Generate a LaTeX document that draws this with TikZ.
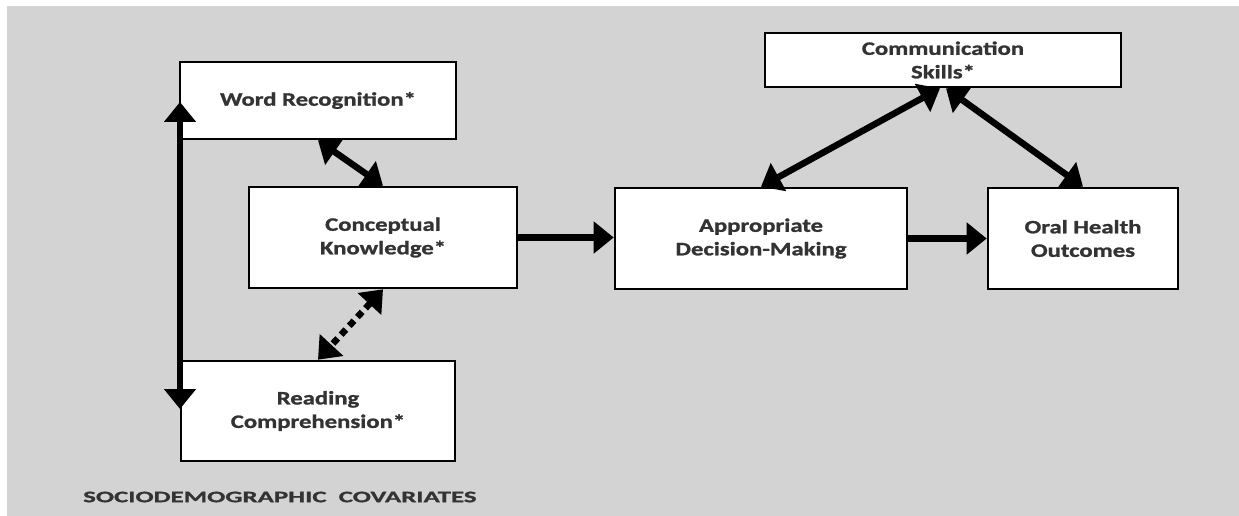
\documentclass[tikz,border=0pt]{standalone}
\usepackage{fontspec}
\setmainfont{Carlito}[FakeStretch=1.3,FakeBold=1.2]
\newfontfamily\sdfont{Carlito}[FakeStretch=1.68,FakeBold=1.2]
\usetikzlibrary{arrows.meta,calc}
\definecolor{bggrey}{HTML}{D3D3D3}
\definecolor{txtgrey}{HTML}{333333}
\begin{document}
\begin{tikzpicture}[x=1pt,y=-1pt,
  box/.style={draw=black, line width=2.6pt, fill=white, inner sep=0pt, align=center,
    font=\fontsize{19}{23.5}\selectfont\bfseries, text=txtgrey},
  conn/.style={line width=6.5pt, -{Triangle[length=20pt,width=31pt]}},
  biconn/.style={line width=6.5pt, {Triangle[length=20pt,width=31pt]}-{Triangle[length=20pt,width=31pt]}},
  dotconn/.style={biconn, dash pattern=on 7pt off 5pt}]
\useasboundingbox (0,0) rectangle (1239,516);
\fill[white] (0,0) rectangle (1239,516);
\fill[bggrey] (7,6) rectangle (1239,516);
\node[box, minimum width=276pt, minimum height=77pt] (wr) at (318,100.5) {Word Recognition*};
\node[box, minimum width=268pt, minimum height=101pt] (ck) at (383,237.5) {Conceptual\\Knowledge*};
\node[box, minimum width=274pt, minimum height=100pt] (rc) at (318,411) {Reading\\Comprehension*};
\node[box, minimum width=292pt, minimum height=101pt] (ad) at (761,238.5) {Appropriate\\Decision-Making};
\node[box, minimum width=190pt, minimum height=101pt] (oh) at (1083,238.5) {Oral Health\\Outcomes};
\node[box, minimum width=356pt, minimum height=54pt] (cs) at (943,60) {Communication\\Skills*};
\node[font=\sdfont\fontsize{16}{18}\selectfont\bfseries, text=txtgrey, anchor=west, inner sep=0pt] (sd) at (83,497) {SOCIODEMOGRAPHIC\ \ COVARIATES};
\coordinate (vt) at (180,102);
\coordinate (vb) at (180,409);
\draw[biconn] (vt) -- (vb);
\draw[biconn] (wr.south) -- (ck.north);
\draw[dotconn] (ck.south) -- (rc.north);
\draw[conn] (ck.east) -- (ck.east -| ad.west);
\draw[conn] (ad.east) -- (ad.east -| oh.west);
\draw[biconn] ($(cs.south)+(-3,0)$) -- (ad.north);
\draw[biconn] ($(cs.south)+(3,0)$) -- (oh.north);
\end{tikzpicture}
\end{document}
